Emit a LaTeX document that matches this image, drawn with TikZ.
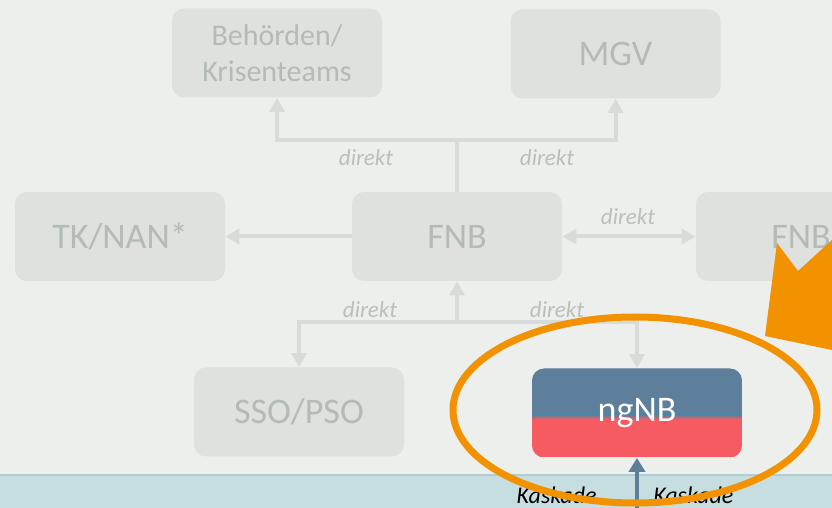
\documentclass[tikz,border=0pt]{standalone}
\usepackage{fontspec}
\setmainfont{Carlito}
\usetikzlibrary{arrows.meta}
\definecolor{bgc}{HTML}{EDEFEC}
\definecolor{boxc}{HTML}{DFE1DE}
\definecolor{boxtext}{HTML}{B3BCB3}
\definecolor{connc}{HTML}{D8DCD8}
\definecolor{lblc}{HTML}{B8C0B8}
\definecolor{bandc}{HTML}{C6DEE0}
\definecolor{bandline}{HTML}{B0CDD3}
\definecolor{ngblue}{HTML}{5E7F9B}
\definecolor{ngred}{HTML}{F55B60}
\definecolor{orangec}{HTML}{F39200}

\begin{document}
\begin{tikzpicture}[x=0.5pt,y=-0.5pt,
  box/.style={rectangle,rounded corners=6pt,fill=boxc,text=boxtext,minimum width=105pt,
    minimum height=44.5pt,inner sep=0pt,align=center,font=\fontsize{18}{18}\selectfont},
  conn/.style={draw=connc,line width=2pt,-{Triangle[width=7.5pt,length=7pt]}},
  lbl/.style={text=lblc,inner sep=0pt,font=\fontsize{11.5}{12}\selectfont\itshape},
  kas/.style={text=black,inner sep=0pt,font=\fontsize{12}{12}\selectfont\itshape}]
\useasboundingbox (0,0) rectangle (832,508);
\fill[bgc] (0,0) rectangle (832,508);
\fill[bandc] (0,475) rectangle (832,508);
\draw[bandline,line width=1.2pt] (0,475) -- (832,475);
\node[box,font=\fontsize{15}{18}\selectfont] (beh) at (277,53) {Behörden/\\Krisenteams};
\node[box] (mgv) at (615.5,54) {MGV};
\node[box] (tk) at (120,236.5) {TK/NAN*};
\node[box] (fnb) at (457,236.5) {FNB};
\node[box] (fnbr) at (801,236.5) {FNB};
\node[box] (sso) at (299,412) {SSO/PSO};
\node[box,text=white,path picture={
  \fill[ngblue,sharp corners] (path picture bounding box.north west) rectangle ([yshift=-1pt]path picture bounding box.east);
  \fill[ngred,sharp corners] ([yshift=-3pt]path picture bounding box.west) rectangle (path picture bounding box.south east);
  \shade[top color=ngblue,bottom color=ngred,sharp corners] ([yshift=-0.9pt]path picture bounding box.west) rectangle ([yshift=-3.1pt]path picture bounding box.east);
  }] (ngnb) at (637,413) {ngNB};
\coordinate (top) at (457,140);
\coordinate (bot) at (457,322);
\draw[conn,-] (fnb.north) -- (top);
\draw[conn] (top) -| (beh.south);
\draw[conn] (top) -| (mgv.south);
\draw[conn] (fnb.west) -- (tk.east);
\draw[conn,{Triangle[width=7.5pt,length=7pt]}-{Triangle[width=7.5pt,length=7pt]}] (fnb.east) -- (fnbr.west);
\draw[conn] (bot) -- (fnb.south);
\draw[conn] (bot) -| (sso.north);
\draw[conn] (bot) -| (ngnb.north);
\node[lbl] (d1) at (366,158) {direkt};
\node[lbl] (d2) at (547,158) {direkt};
\node[lbl] (d3) at (628,217) {direkt};
\node[lbl] (d4) at (370,310) {direkt};
\node[lbl] (d5) at (557,310) {direkt};
\coordinate (kasbot) at (637,508);
\draw[ngblue,line width=2pt,-{Triangle[width=8pt,length=7pt]}] (kasbot) -- (ngnb.south);
\node[kas,anchor=base east] (kl) at (597,503) {Kaskade};
\node[kas,anchor=base west] (kr) at (653,503) {Kaskade};
\draw[orangec,line width=3.5pt] (635,410) ellipse [x radius=182,y radius=93];
\fill[orangec] (777,243) -- (798,271) -- (832,240) -- (832,350) -- (765,336) -- cycle;
\end{tikzpicture}
\end{document}
